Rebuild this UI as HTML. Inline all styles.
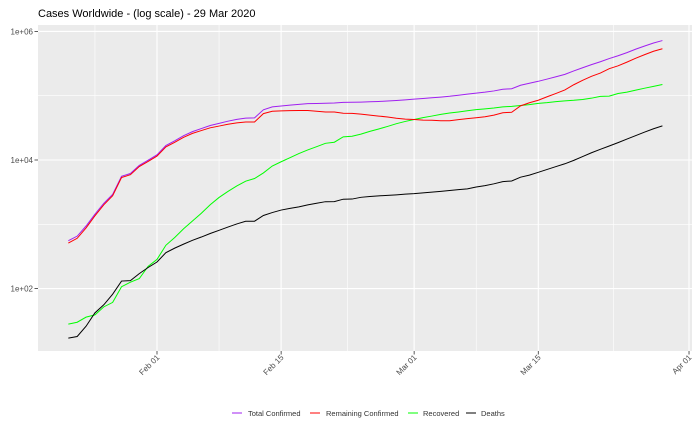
<!DOCTYPE html>
<html><head><meta charset="utf-8"><style>
body{margin:0;background:#fff;}
svg text{font-family:"Liberation Sans",Arial,sans-serif;}
</style></head><body>
<svg id="chart" width="700" height="432" xmlns="http://www.w3.org/2000/svg">
<text x="38" y="17" font-size="11" fill="#000">Cases Worldwide - (log scale) - 29 Mar 2020</text>
<rect x="38" y="25" width="654" height="326" fill="#ebebeb"/>
<g id="grid"></g><g id="series"></g><g id="axes"></g>
<g font-size="7.5" fill="#333">
<line x1="232" y1="413" x2="242" y2="413" stroke="#a020f0"/>
<text x="248" y="416">Total Confirmed</text>
<line x1="310" y1="413" x2="320" y2="413" stroke="#ff0000"/>
<text x="326" y="416">Remaining Confirmed</text>
<line x1="408" y1="413" x2="418" y2="413" stroke="#00ff00"/>
<text x="423" y="416">Recovered</text>
<line x1="466" y1="413" x2="476" y2="413" stroke="#000"/>
<text x="481" y="416">Deaths</text>
</g>
</svg>
<script>
const confirmed=[555,654,941,1434,2118,2927,5578,6166,8234,9927,
12038,16787,19887,23898,27643,30802,34395,37129,40160,42769,44811,45228,60381,66909,69051,71235,73270,75152,75652,76212,76841,78602,78982,79546,80399,81376,82723,84120,86014,
88369,90306,92840,95120,97886,101800,105836,109835,113582,118582,125865,128343,145193,156097,167449,181546,197168,214915,242713,272167,304528,336953,378235,418045,467653,529591,593291,660706,720117];
const deaths=[17,18,26,42,56,82,131,133,171,213,
259,362,426,492,564,634,719,806,906,1013,1113,1118,1371,1523,1666,1770,1868,2007,2122,2247,2251,2458,2469,2629,2708,2770,2814,2872,2941,
2996,3085,3160,3254,3348,3460,3558,3803,3996,4262,4615,4720,5404,5819,6440,7126,7905,8733,9867,11299,12973,14651,16505,18625,21181,23970,27198,30652,33925];
const recovered=[28,30,36,39,52,61,107,126,143,222,
284,472,623,852,1124,1487,2011,2616,3244,3946,4683,5150,6295,8058,9395,10865,12583,14352,16121,18177,18890,22886,23394,25227,27905,30384,33277,36711,39782,
42716,45602,48228,51170,53796,55865,58358,60694,62494,64404,67003,68324,70251,72624,76034,78088,80840,83207,84854,87256,91499,97704,98351,108000,113787,122150,130915,139415,149082];
const remaining=confirmed.map((c,i)=>c-recovered[i]-deaths[i]);
const xTickLabels=["Feb 01","Feb 15","Mar 01","Mar 15","Apr 01"];
const xTickDays=[10,24,39,53,70];
const yTickLabels=["1e+02","1e+04","1e+06"];
const yTickValues=[100,10000,1000000];

const NS="http://www.w3.org/2000/svg";
function X(d){return 157+(d-10)*8.867;}
function Y(v){return 160-(Math.log10(v)-4)*64.3;}
function mk(tag,attrs,parent){const e=document.createElementNS(NS,tag);for(const k in attrs)e.setAttribute(k,attrs[k]);parent.appendChild(e);return e;}
const grid=document.getElementById('grid'),series=document.getElementById('series'),axes=document.getElementById('axes');
// minor grid
[1000,100000].forEach(v=>{const l=mk('line',{x1:38,x2:692,y1:Y(v),y2:Y(v),stroke:'#fff','stroke-width':0.6},grid);

});
for(let i=0;i<xTickDays.length;i++){
  const m=i===0?xTickDays[0]-7:(xTickDays[i-1]+xTickDays[i])/2;
  const l=mk('line',{x1:X(m),x2:X(m),y1:25,y2:351,stroke:'#fff','stroke-width':0.6},grid);
  
  
}
yTickValues.forEach((v,i)=>{
  const l=mk('line',{x1:38,x2:692,y1:Y(v),y2:Y(v),stroke:'#fff','stroke-width':1.1},grid);
  
  
  const t=mk('line',{x1:34.5,x2:38,y1:Y(v),y2:Y(v),stroke:'#333','stroke-width':0.8},axes);
  
  
  const tx=mk('text',{x:33,y:Y(v)+3,'font-size':8,'text-anchor':'end',fill:'#4d4d4d'},axes);
  tx.textContent=yTickLabels[i];
  
  
});
xTickDays.forEach((d,i)=>{
  const l=mk('line',{x1:X(d),x2:X(d),y1:25,y2:351,stroke:'#fff','stroke-width':1.1},grid);
  
  
  const t=mk('line',{x1:X(d),x2:X(d),y1:351,y2:354.5,stroke:'#333','stroke-width':0.8},axes);
  
  
  const tx=mk('text',{x:X(d)+3,y:358,'font-size':8,'text-anchor':'end',fill:'#4d4d4d',transform:`rotate(-45 ${X(d)+3} 358)`},axes);
  tx.textContent=xTickLabels[i];
  
  
});
function line(arr,color,name){
  const d=arr.map((v,i)=>(i?'L':'M')+X(i).toFixed(2)+','+Y(v).toFixed(2)).join('');
  const p=mk('path',{d:d,fill:'none',stroke:color,'stroke-width':1},series);
  
  
}
line(recovered,'#00ff00','recovered-line');
line(deaths,'#000000','deaths-line');
line(confirmed,'#a020f0','total-confirmed-line');
line(remaining,'#ff0000','remaining-confirmed-line');
</script>
</body></html>
